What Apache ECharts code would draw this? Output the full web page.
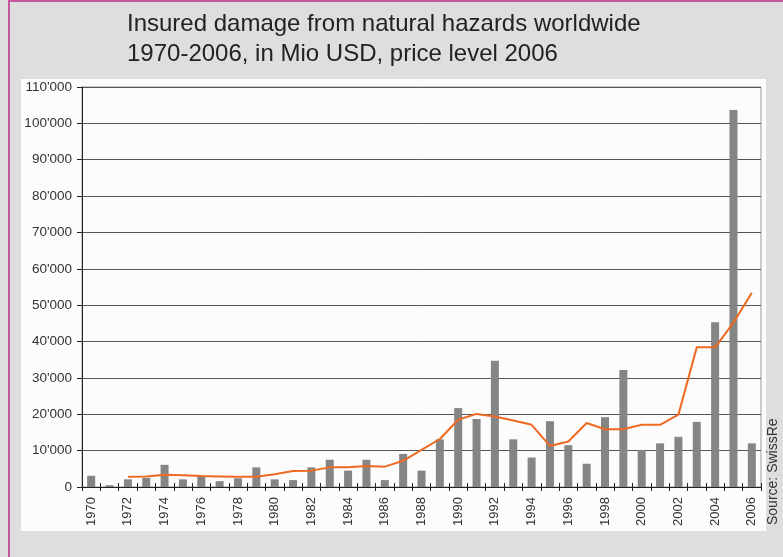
<!DOCTYPE html>
<html>
<head>
<meta charset="utf-8">
<script src="https://cdn.jsdelivr.net/npm/echarts@6/dist/echarts.min.js"></script>
<style>
html,body{margin:0;padding:0;background:#dedede;}
#c{width:783px;height:557px;}
</style>
</head>
<body>
<div id="c"></div>
<script>
var years = [];
for (var y = 1970; y <= 2006; y++) years.push(String(y));
var damage = [3100, 500, 2100, 2500, 6100, 2100, 2900, 1600, 2400, 5400,
              2100, 1900, 5400, 7500, 4500, 7500, 1900, 9100, 4500, 13100,
              21700, 18700, 34700, 13100, 8100, 18100, 11500, 6400, 19200, 32200,
              10200, 12000, 13800, 17900, 45300, 103700, 12000];
var trend = [null, null, 2800, 2900, 3400, 3200, 3000, 2900, 2800, 2800,
             3500, 4400, 4500, 5400, 5400, 5800, 5600, 7200, 10200, 13200,
             18500, 20100, 19400, 18300, 17100, 11300, 12500, 17600, 15900, 15900,
             17100, 17100, 19900, 38400, 38400, 45200, 53400];
var titleLines = ["Insured damage from natural hazards worldwide", "1970-2006, in Mio USD, price level 2006"];
var sourceText = "Source: SwissRe";

var chart = echarts.init(document.getElementById('c'), null, {renderer: 'canvas'});
var font = 'Liberation Sans, Arial, sans-serif';
chart.setOption({
  backgroundColor: '#dedede',
  animation: false,
  title: {
    text: titleLines.join('\n'),
    left: 127, top: 9, padding: 0,
    textStyle: {fontFamily: font, fontSize: 24, fontWeight: 'normal', color: '#222', lineHeight: 30}
  },
  graphic: [
    {type: 'rect', z: -10, shape: {x: 21, y: 79, width: 745, height: 452}, style: {fill: '#fcfcfc'}},
    {type: 'rect', z: -9, shape: {x: 8, y: 0, width: 2, height: 557}, style: {fill: '#c4579e'}},
    {type: 'rect', z: -9, shape: {x: 8, y: 0, width: 775, height: 2}, style: {fill: '#c4579e'}},
    {type: 'text', z: 10, x: 766, y: 525, rotation: Math.PI / 2,
     style: {text: sourceText, font: '14px ' + font, fill: '#333', textAlign: 'left', textVerticalAlign: 'top'}}
  ],
  grid: {left: 82, right: 22, top: 87, bottom: 70, show: true, borderColor: '#999', borderWidth: 1, backgroundColor: 'transparent'},
  xAxis: [{
    type: 'category', data: years, position: 'bottom',
    axisLine: {lineStyle: {color: '#222', width: 1}},
    axisTick: {show: true, length: 4, lineStyle: {color: '#222'}, alignWithLabel: false, interval: 0},
    axisLabel: {rotate: 90, interval: 1, margin: 10, fontFamily: font, fontSize: 13, color: '#333'},
    splitLine: {show: false}
  }, {
    type: 'category', data: years, position: 'bottom',
    axisLine: {show: false},
    axisTick: {show: true, inside: true, length: 4, lineStyle: {color: '#222'}, interval: 0},
    axisLabel: {show: false}, splitLine: {show: false}
  }],
  yAxis: {
    type: 'value', min: 0, max: 110000, interval: 10000,
    axisLine: {show: true, lineStyle: {color: '#222'}},
    axisTick: {show: true, length: 5, lineStyle: {color: '#222'}},
    axisLabel: {margin: 10, fontFamily: font, fontSize: 13.5, color: '#333',
      formatter: function (v) { return String(v).replace(/\B(?=(\d{3})+(?!\d))/g, "'"); }},
    splitLine: {show: true, lineStyle: {color: '#555', width: 1}}
  },
  series: [
    {type: 'bar', data: damage, barWidth: 8, itemStyle: {color: '#858585'}, xAxisIndex: 0},
    {type: 'line', data: trend, symbol: 'none', xAxisIndex: 0, connectNulls: false,
     lineStyle: {color: '#ee6a22', width: 2}, z: 5}
  ]
});
</script>
</body>
</html>
